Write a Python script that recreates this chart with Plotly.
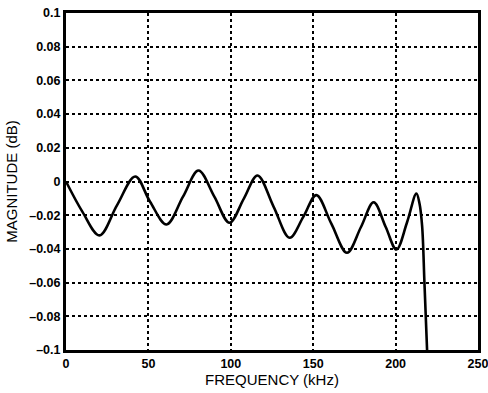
import plotly.graph_objects as go

freq_khz = [0, 10, 20.3, 31, 42, 51, 61, 71, 80.4, 90, 99.2, 108, 116.2, 126,
            135.7, 144, 151.9, 161, 170.5, 179, 186.7, 194, 200.5, 207, 212.6,
            214.5, 216.1, 217.5, 219.1]
magnitude_db = [0, -0.018, -0.032, -0.014, 0.003, -0.012, -0.0255, -0.009, 0.0065,
                -0.009, -0.0245, -0.010, 0.0036, -0.015, -0.0334, -0.021, -0.0081,
                -0.025, -0.0423, -0.027, -0.0123, -0.027, -0.0404, -0.024, -0.0071,
                -0.013, -0.0265, -0.06, -0.1]

x_ticks = [0, 50, 100, 150, 200, 250]
x_ticklabels = ["0", "50", "100", "150", "200", "250"]
y_ticks = [0.1, 0.08, 0.06, 0.04, 0.02, 0, -0.02, -0.04, -0.06, -0.08, -0.1]
y_ticklabels = ["0.1", "0.08", "0.06", "0.04", "0.02", "0", "–0.02", "–0.04",
                "–0.06", "–0.08", "–0.1"]

fig = go.Figure()
fig.add_trace(go.Scatter(x=freq_khz, y=magnitude_db, mode="lines",
                         line=dict(color="black", width=2.6, shape="spline", smoothing=1.0),
                         showlegend=False, cliponaxis=True))

tickfont = dict(family="Liberation Sans, Arial, sans-serif", size=12.5, color="black", weight="bold")
titlefont = dict(family="Liberation Sans, Arial, sans-serif", size=15, color="black")

fig.update_layout(
    width=488, height=393,
    margin=dict(l=66, r=10, t=13, b=43, autoexpand=False),
    paper_bgcolor="white", plot_bgcolor="white",
    xaxis=dict(range=[0, 250], tickvals=x_ticks, ticktext=x_ticklabels,
               showgrid=True, gridcolor="black", griddash="dot", gridwidth=2,
               showline=True, linecolor="black", linewidth=3, mirror=True,
               ticks="", zeroline=False, tickfont=tickfont, automargin=False,
               ticklabeloverflow="allow",
               title=dict(text="FREQUENCY (kHz)", font=titlefont, standoff=4)),
    yaxis=dict(range=[-0.1, 0.1], tickvals=y_ticks, ticktext=y_ticklabels,
               showgrid=True, gridcolor="black", griddash="dot", gridwidth=2,
               showline=True, linecolor="black", linewidth=3, mirror=True,
               ticks="", zeroline=False, tickfont=tickfont, automargin=False,
               ticklabeloverflow="allow",
               title=dict(text="MAGNITUDE (dB)", font=titlefont, standoff=8)),
)

fig.write_html("out.html", config={"displayModeBar": False},
               post_script="document.body.style.margin='0';")
